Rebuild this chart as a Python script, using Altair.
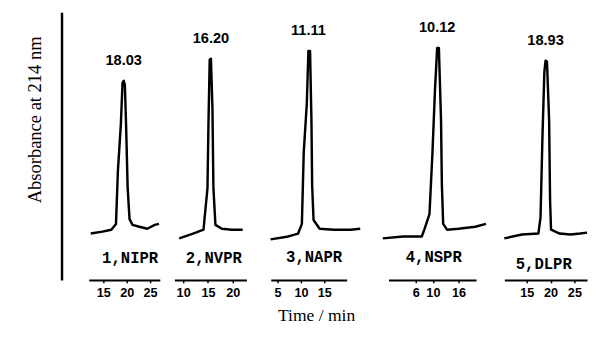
import altair as alt
import pandas as pd

# ---- data (time in min, absorbance in arbitrary units) ----
names = ["1,NIPR", "2,NVPR", "3,NAPR", "4,NSPR", "5,DLPR"]
peak_labels = ["18.03", "16.20", "11.11", "10.12", "18.93"]

p1_time = [12.3, 14.8, 16.7, 17.7, 18.1, 18.75, 19.1, 19.35, 19.6, 19.85, 20.2, 20.6, 21.25, 22.7, 24.4, 26.0, 26.9]
p1_abs = [-0.2, 0.0, 0.2, 0.8, 6.2, 11.2, 15.4, 15.6, 15.2, 11.2, 4.5, 1.3, 0.7, 0.5, 0.3, 0.7, 0.8]

p2_time = [9.2, 12.0, 14.1, 14.9, 15.1, 15.35, 15.6, 15.9, 16.1, 16.5, 17.8, 19.8, 22.0]
p2_abs = [-0.7, -0.2, 0.2, 4.5, 11.2, 17.8, 17.9, 12.8, 4.5, 0.7, 0.3, 0.2, 0.2]

p3_time = [3.5, 7.3, 9.4, 10.2, 10.6, 11.25, 11.6, 11.95, 12.25, 12.4, 12.7, 14.0, 17.1, 20.6, 22.7]
p3_abs = [-0.8, -0.5, -0.2, 0.8, 8.2, 13.2, 18.7, 18.7, 11.5, 4.8, 1.2, 0.3, 0.2, 0.2, 0.3]

p4_time = [-1.7, 3.05, 7.4, 8.0, 9.2, 9.9, 10.5, 11.0, 11.4, 11.9, 12.1, 12.4, 13.3, 16.0, 19.9, 22.4]
p4_abs = [-0.7, -0.5, -0.5, 0.2, 1.8, 8.2, 14.8, 19.0, 19.0, 11.5, 4.8, 0.8, 0.2, 0.3, 0.5, 0.8]

p5_time = [10.3, 14.0, 17.45, 17.9, 18.3, 18.7, 18.95, 19.25, 19.7, 19.9, 20.1, 21.9, 24.2, 26.2, 27.65]
p5_abs = [-0.7, -0.3, -0.2, 1.5, 9.8, 16.5, 17.7, 17.6, 11.5, 3.2, 0.2, -0.2, -0.3, -0.2, -0.1]

tick_values = [[15, 20, 25], [10, 15, 20], [5, 10, 15], [6, 10, 16], [15, 20, 25]]
x_domains = [[11.875, 27.08], [8.24, 22.75], [3.54, 19.79], [-0.36, 20.09], [10.31, 27.65]]

series = [(p1_time, p1_abs), (p2_time, p2_abs), (p3_time, p3_abs), (p4_time, p4_abs), (p5_time, p5_abs)]

# ---- layout / style ----
panel_widths = [88, 97, 113, 117, 85]
axis_lengths = [73, 74, 78, 90, 85]
title_x = [42, 40, 44, 46, 40]
title_y = [-23, -23, -24, -24, -17]
HEIGHT = 275
Y_DOMAIN = [-5.0, 22.7]

panels = []
for i, ((t, a), name) in enumerate(zip(series, names)):
    df = pd.DataFrame({"time": t, "abs": a})
    imax = int(df["abs"].idxmax())
    lab = pd.DataFrame({"time": [df["time"][imax]], "abs": [df["abs"][imax]], "label": [peak_labels[i]]})

    xscale = alt.Scale(domain=x_domains[i], range=[0, axis_lengths[i]], nice=False, zero=False)
    yscale = alt.Scale(domain=Y_DOMAIN, nice=False, zero=False)

    xaxis = alt.Axis(
        values=tick_values[i], format="d", grid=False,
        domainColor="black", domainWidth=2, tickColor="black", tickWidth=1.5, tickSize=3,
        labelFont="Liberation Sans", labelFontWeight="bold", labelFontSize=13, labelColor="black",
        labelPadding=4, labelFlush=False, labelOverlap=False,
        title=name, titleFont="Liberation Mono", titleFontWeight="bold", titleFontSize=16,
        titleColor="black", titleX=title_x[i], titleY=title_y[i],
        titleAlign="center", titleBaseline="middle", titleAnchor="start",
    )
    if i == 0:
        yaxis = alt.Axis(
            offset=28, ticks=False, labels=False, grid=False,
            domainColor="black", domainWidth=2.5,
            title="Absorbance at 214 nm", titleFont="Liberation Serif", titleFontWeight="normal",
            titleFontSize=19, titleColor="black", titleX=-18, titleY=110,
            titleAngle=270, titleAlign="center", titleBaseline="bottom",
        )
    else:
        yaxis = None

    line = alt.Chart(df).mark_line(color="black", strokeWidth=2.5, strokeJoin="round").encode(
        x=alt.X("time:Q", scale=xscale, axis=xaxis),
        y=alt.Y("abs:Q", scale=yscale, axis=yaxis),
        order=alt.Order("time:Q"),
    )
    txt = alt.Chart(lab).mark_text(
        font="Liberation Sans", fontWeight="bold", fontSize=15, color="black",
        baseline="middle", align="center", dy=-21,
    ).encode(
        x=alt.X("time:Q", scale=xscale),
        y=alt.Y("abs:Q", scale=yscale),
        text="label:N",
    )
    panels.append(alt.layer(line, txt).properties(width=panel_widths[i], height=HEIGHT))

chart = alt.hconcat(*panels, spacing=0).properties(
    padding={"left": 17, "top": 0, "right": 0, "bottom": 0},
    title=alt.TitleParams(
        text="Time / min", orient="bottom", anchor="middle",
        font="Liberation Serif", fontSize=18, fontWeight="normal", color="black",
        offset=8, dx=10,
    ),
).configure_view(strokeWidth=0, stroke=None)

chart.save("out.html", embed_options={"renderer": "svg", "actions": False})
